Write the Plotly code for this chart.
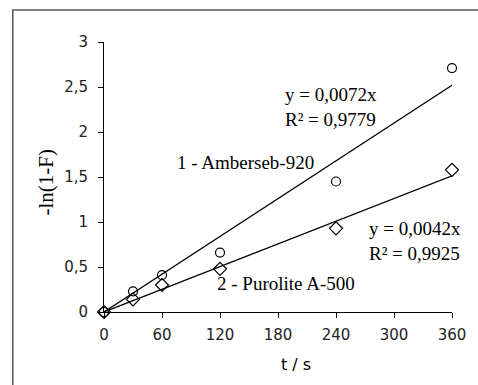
import plotly.graph_objects as go

# Data
t_values = [0, 30, 60, 120, 240, 360]
amberseb = [0.0, 0.23, 0.41, 0.66, 1.45, 2.71]
purolite = [0.0, 0.14, 0.30, 0.48, 0.93, 1.58]
trend_x = [0, 360]
trend_slopes = [0.0070, 0.0042]  # as drawn
x_ticks = [0, 60, 120, 180, 240, 300, 360]
y_ticks = [0, 0.5, 1, 1.5, 2, 2.5, 3]
y_tick_text = ["0", "0,5", "1", "1,5", "2", "2,5", "3"]

fig = go.Figure()
for s in trend_slopes:
    fig.add_trace(go.Scatter(x=trend_x, y=[s * v for v in trend_x], mode="lines",
                             line=dict(color="black", width=1.3), showlegend=False,
                             cliponaxis=False))
fig.add_trace(go.Scatter(x=t_values, y=amberseb, mode="markers",
                         marker=dict(symbol="circle-open", size=9, color="black",
                                     line=dict(width=1.2, color="black")),
                         showlegend=False, cliponaxis=False))
fig.add_trace(go.Scatter(x=t_values, y=purolite, mode="markers",
                         marker=dict(symbol="diamond-open", size=10, color="black",
                                     line=dict(width=1.2, color="black")),
                         showlegend=False, cliponaxis=False))

L, R, T, B = 104, 23, 42, 73
W, H = 478, 385
pw, ph = W - L - R, H - T - B

def px(x):
    return (x - L) / pw

def py(y):
    return (H - B - y) / ph

serif = dict(family="Liberation Serif", size=19, color="black")
ann = [
    dict(text="y = 0,0072x<br>R² = 0,9779", x=px(285), y=py(107), xanchor="left", yanchor="middle", align="left"),
    dict(text="1 - Amberseb-920", x=px(176), y=py(162), xanchor="left", yanchor="middle"),
    dict(text="y = 0,0042x<br>R² = 0,9925", x=px(369), y=py(241), xanchor="left", yanchor="middle", align="left"),
    dict(text="2 - Purolite A-500", x=px(216), y=py(283), xanchor="left", yanchor="middle"),
]
annotations = [dict(a, xref="paper", yref="paper", showarrow=False, font=serif) for a in ann]
annotations.append(dict(text="-ln(1-F)", x=px(45), y=py(182), xref="paper", yref="paper",
                        xanchor="center", yanchor="middle",
                        showarrow=False, textangle=-90,
                        font=dict(family="Liberation Serif", size=21, color="black")))
annotations.append(dict(text="t / s", x=px(298), y=py(364), xref="paper", yref="paper",
                        xanchor="center", yanchor="middle",
                        showarrow=False, font=dict(family="DejaVu Sans", size=16, color="black")))

fig.update_layout(
    width=W, height=H,
    margin=dict(l=L, r=R, t=T, b=B),
    paper_bgcolor="white", plot_bgcolor="white",
    annotations=annotations,
    shapes=[dict(type="rect", xref="paper", yref="paper", x0=px(12), y0=py(10), x1=px(600), y1=py(600),
                 line=dict(color="#555555", width=1.5))],
    xaxis=dict(range=[0, 360], tickvals=x_ticks, showgrid=False, zeroline=False,
               showline=True, linecolor="black", linewidth=1, ticks="outside", ticklen=5,
               tickcolor="black", tickfont=dict(family="DejaVu Sans", size=15, color="#222"),
               ticklabelstandoff=4),
    yaxis=dict(range=[0, 3], tickvals=y_ticks, ticktext=y_tick_text, showgrid=False, zeroline=False,
               showline=True, linecolor="black", linewidth=1, ticks="outside", ticklen=5,
               tickcolor="black", tickfont=dict(family="DejaVu Sans", size=15, color="#222"),
               ticklabelstandoff=7),
)
fig.write_html("out.html")
